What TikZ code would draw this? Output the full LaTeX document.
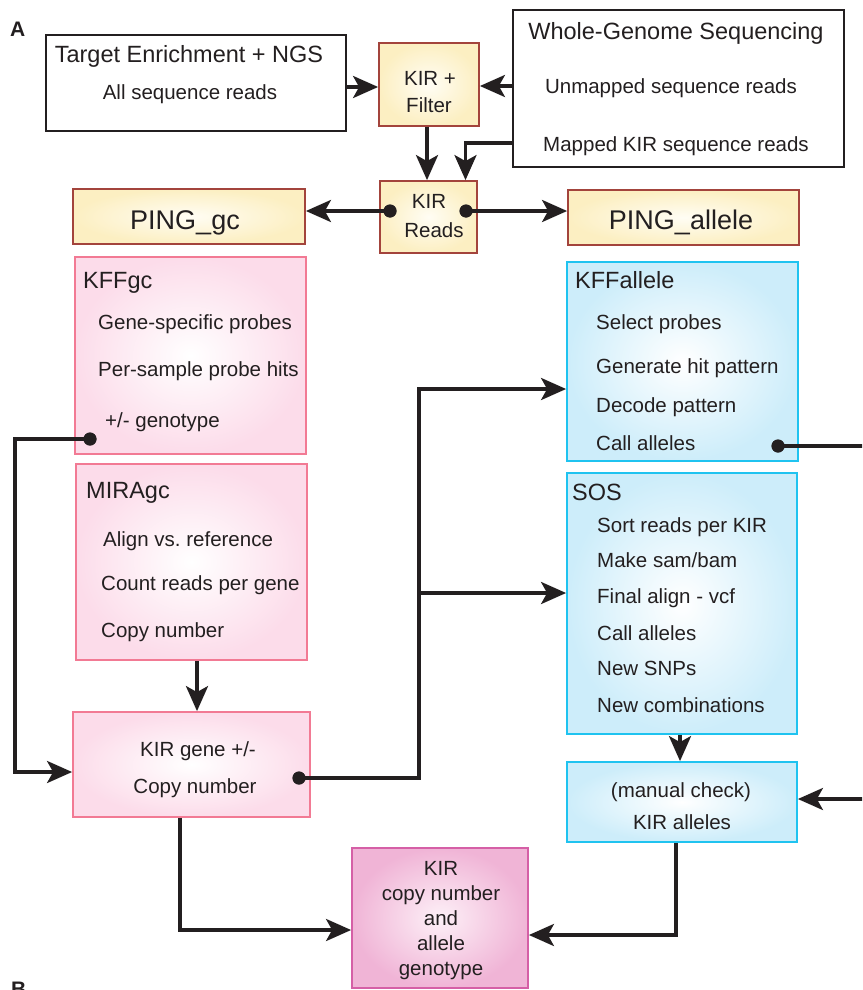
\documentclass[tikz,border=0pt]{standalone}
\usepackage{fontspec}
\setmainfont{Liberation Sans}
\usetikzlibrary{arrows.meta}
\frenchspacing
\definecolor{txt}{HTML}{231F20}
\definecolor{ybord}{HTML}{A3443C}
\definecolor{yin}{HTML}{FFFDF4}
\definecolor{yout}{HTML}{FCEFC2}
\definecolor{pbord}{HTML}{F27A94}
\definecolor{pout}{HTML}{FCDCEA}
\definecolor{bbord}{HTML}{1FC3F0}
\definecolor{bout}{HTML}{CDEDFA}
\definecolor{fbord}{HTML}{D55FA6}
\definecolor{fin}{HTML}{FDF0F7}
\definecolor{fout}{HTML}{F0B4D6}
\begin{document}
\begin{tikzpicture}[x=1pt,y=-1pt,
  boxbase/.style={rectangle, inner sep=0pt, line width=1.8pt},
  whitebox/.style={boxbase, draw=txt, line width=1.5pt, fill=white},
  yelbox/.style={boxbase, draw=ybord, inner color=yin, outer color=yout},
  pinkbox/.style={boxbase, draw=pbord, inner color=white, outer color=pout},
  bluebox/.style={boxbase, draw=bbord, inner color=white, outer color=bout},
  magbox/.style={boxbase, draw=fbord, inner color=fin, outer color=fout},
  lbl/.style={inner sep=0pt, text=txt, font=\fontsize{20.5}{24}\selectfont},
  hdr/.style={inner sep=0pt, text=txt, font=\fontsize{23.5}{28}\selectfont},
  pinglbl/.style={inner sep=0pt, text=txt, font=\fontsize{27}{32}\selectfont},
  panel/.style={inner sep=0pt, text=txt, font=\fontsize{21}{25}\selectfont\bfseries},
  conn/.style={draw=txt, line width=3.5pt},
  arr/.style={conn, -{Stealth[length=25pt,width=22pt,inset=6pt]}},
  dotn/.style={circle, fill=txt, inner sep=0pt, minimum size=13pt},
]
\useasboundingbox (0,0) rectangle (862,990);
\fill[white] (0,0) rectangle (862,990);
\clip (0,0) rectangle (862,990);

% ---- boxes ----
\node[whitebox, minimum width=300pt, minimum height=96pt] (te) at (196,83) {};
\node[yelbox, minimum width=100pt, minimum height=83pt] (filter) at (429,84.5) {};
\node[whitebox, minimum width=331pt, minimum height=157pt] (wgs) at (678.5,88.5) {};
\node[yelbox, minimum width=97pt, minimum height=72pt] (reads) at (428.5,217) {};
\node[yelbox, minimum width=232pt, minimum height=55pt] (pinggc) at (189,216.5) {};
\node[yelbox, minimum width=231pt, minimum height=55pt] (pingal) at (683.5,217.5) {};
\node[pinkbox, minimum width=231pt, minimum height=197pt] (kffgc) at (190.5,355.5) {};
\node[pinkbox, minimum width=231pt, minimum height=196pt] (miragc) at (191.5,562) {};
\node[pinkbox, minimum width=237pt, minimum height=105pt] (kirgene) at (191.5,764.5) {};
\node[magbox, minimum width=176pt, minimum height=140pt] (final) at (440,918) {};
\node[bluebox, minimum width=231pt, minimum height=199pt] (kffal) at (682.5,361.5) {};
\node[bluebox, minimum width=230pt, minimum height=261pt] (sos) at (682,603.5) {};
\node[bluebox, minimum width=230pt, minimum height=80pt] (manual) at (682,802) {};

% ---- texts ----
\node[panel, anchor=base west] (lA) at (10,37) {A};
\node[panel, anchor=base west] (lB) at (11,996) {B};

\node[hdr, anchor=base] (teT) at (189,63) {Target Enrichment + NGS};
\node[lbl, anchor=base] (teS) at (190,99) {All sequence reads};
\node[hdr, anchor=base] (wgsT) at (676,40) {Whole-Genome Sequencing};
\node[lbl, anchor=base] (wgsS1) at (671,93) {Unmapped sequence reads};
\node[lbl, anchor=base] (wgsS2) at (676,151) {Mapped KIR sequence reads};

\node[lbl, anchor=base] (fT1) at (430,85) {KIR +};
\node[lbl, anchor=base] (fT2) at (429,112) {Filter};
\node[lbl, anchor=base] (rT1) at (429,208) {KIR};
\node[lbl, anchor=base] (rT2) at (434,237) {Reads};

\node[pinglbl, anchor=base] (pgT) at (185,229.5) {PING\_gc};
\node[pinglbl, anchor=base] (paT) at (681,229.5) {PING\_allele};

\node[hdr, anchor=base west] (kgT) at (83,288) {KFFgc};
\node[lbl, anchor=base west] (kg1) at (98,329) {Gene-specific probes};
\node[lbl, anchor=base west] (kg2) at (98,376) {Per-sample probe hits};
\node[lbl, anchor=base west] (kg3) at (105,427) {+/- genotype};

\node[hdr, anchor=base west] (mgT) at (86,498) {MIRAgc};
\node[lbl, anchor=base west] (mg1) at (103,546) {Align vs.\ reference};
\node[lbl, anchor=base west] (mg2) at (101,590) {Count reads per gene};
\node[lbl, anchor=base west] (mg3) at (101,637) {Copy number};

\node[lbl, anchor=base] (kn1) at (198,756) {KIR gene +/-};
\node[lbl, anchor=base] (kn2) at (195,793) {Copy number};

\node[lbl, anchor=base] (fn1) at (441,875) {KIR};
\node[lbl, anchor=base] (fn2) at (441,900) {copy number};
\node[lbl, anchor=base] (fn3) at (441,925) {and};
\node[lbl, anchor=base] (fn4) at (441,950) {allele};
\node[lbl, anchor=base] (fn5) at (441,975) {genotype};

\node[hdr, anchor=base west] (kaT) at (575,288) {KFFallele};
\node[lbl, anchor=base west] (ka1) at (596,329) {Select probes};
\node[lbl, anchor=base west] (ka2) at (596,373) {Generate hit pattern};
\node[lbl, anchor=base west] (ka3) at (596,412) {Decode pattern};
\node[lbl, anchor=base west] (ka4) at (596,450) {Call alleles};

\node[hdr, anchor=base west] (sT) at (572,500) {SOS};
\node[lbl, anchor=base west] (s1) at (597,532) {Sort reads per KIR};
\node[lbl, anchor=base west] (s2) at (597,567) {Make sam/bam};
\node[lbl, anchor=base west] (s3) at (597,603) {Final align - vcf};
\node[lbl, anchor=base west] (s4) at (597,640) {Call alleles};
\node[lbl, anchor=base west] (s5) at (597,675) {New SNPs};
\node[lbl, anchor=base west] (s6) at (597,712) {New combinations};

\node[lbl, anchor=base] (mc1) at (681,797) {(manual check)};
\node[lbl, anchor=base] (mc2) at (682,829) {KIR alleles};

% ---- dots / coordinates ----
\node[dotn] (d1) at (390,211) {};
\node[dotn] (d2) at (466,211) {};
\node[dotn] (d3) at (90,439) {};
\node[dotn] (d4) at (299,778) {};
\node[dotn] (d5) at (778,446) {};
\coordinate (c1) at (15,439);
\coordinate (j1) at (419,389);
\coordinate (j2) at (419,593);
\coordinate (e1) at (870,446);
\coordinate (e2) at (870,799);

% ---- connectors ----
\draw[arr] (te.east |- 0,87) -- (filter.west |- 0,87);
\draw[arr] (wgs.west |- 0,86) -- (filter.east |- 0,86);
\draw[arr] ([xshift=-2pt]filter.south) -- ([xshift=-1.5pt]reads.north);
\draw[arr] (wgs.west |- 0,143) -| ([xshift=37pt]reads.north);
\draw[arr] (d1.center) -- (pinggc.east |- d1);
\draw[arr] (d2.center) -- (pingal.west |- d2);
\draw[arr] (d3.center) -- (c1) |- ([yshift=-7.5pt]kirgene.west);
\draw[arr] ([xshift=5.5pt]miragc.south) -- ([xshift=5.5pt]kirgene.north);
\draw[arr] (d4.center) -| (j1) -- (kffal.west |- j1);
\draw[arr] (j2) -- (sos.west |- j2);
\draw[arr] (kirgene.south -| 180,0) |- ([yshift=-12pt]final.west);
\draw[conn] (d5.center) -- (e1);
\draw[arr] (e2) -- (manual.east |- e2);
\draw[arr] ([xshift=-2pt]sos.south) -- ([xshift=-2pt]manual.north);
\draw[arr] ([xshift=-6pt]manual.south) |- ([yshift=-17pt]final.east);

% dots on top
\fill[txt] (d1) circle (6.5pt) (d2) circle (6.5pt) (d3) circle (6.5pt) (d4) circle (6.5pt) (d5) circle (6.5pt);
\end{tikzpicture}
\end{document}
